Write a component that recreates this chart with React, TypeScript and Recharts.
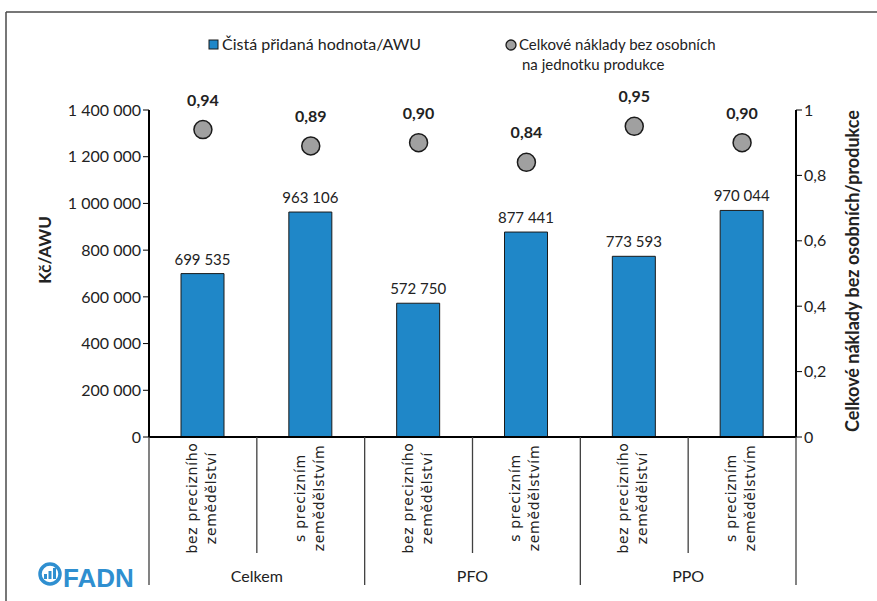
import React from 'react';
import { ComposedChart, Bar, Scatter, XAxis, YAxis, LabelList } from 'recharts';

// farm groups and precision-farming split
const groups = ['Celkem', 'Celkem', 'PFO', 'PFO', 'PPO', 'PPO'];
const catLines = [
    ['bez precizního', 'zemědělství'],
    ['s precizním', 'zemědělstvím'],
    ['bez precizního', 'zemědělství'],
    ['s precizním', 'zemědělstvím'],
    ['bez precizního', 'zemědělství'],
    ['s precizním', 'zemědělstvím'],
];
// Kč per AWU
const valueAdded = [699535, 963106, 572750, 877441, 773593, 970044];
// total costs without personal costs per unit of output
const costRatio = [0.94, 0.89, 0.9, 0.84, 0.95, 0.9];

const leftTicks = [0, 200000, 400000, 600000, 800000, 1000000, 1200000, 1400000];
const rightTicks = [0, 0.2, 0.4, 0.6, 0.8, 1];

const data = groups.map((g, i) => ({
    name: g + ': ' + catLines[i].join(' '),
    awu: valueAdded[i],
    cost: costRatio[i],
}));

const W = 877;
const H = 601;
const PLOT_LEFT = 149;
const PLOT_RIGHT = 796;
const PLOT_TOP = 110;
const PLOT_BOTTOM = 437;
const BAND = (PLOT_RIGHT - PLOT_LEFT) / data.length;

const BLUE = '#1F87C8';
const LINE = '#404040';
const TXT = '#222';
const GILL = 'Lato, "Open Sans", sans-serif';

const spaced = (v: number) => String(Math.round(v)).replace(/\B(?=(\d{3})+(?!\d))/g, ' ');
const comma2 = (v: number) => v.toFixed(2).replace('.', ',');
const rightFmt = (v: number) => (v === 0 || v === 1 ? String(v) : v.toFixed(1).replace('.', ','));

const CategoryTick = (props: any) => {
    const { x, payload } = props;
    const i = payload.index;
    const cy = 498;
    const right = x + BAND / 2;
    const groupEnd = i % 2 === 1;
    return (
        <g>
            {i === 0 && (
                <line x1={x - BAND / 2} x2={x - BAND / 2} y1={PLOT_BOTTOM} y2={585} stroke={LINE} strokeWidth={1.3} />
            )}
            <line x1={right} x2={right} y1={PLOT_BOTTOM} y2={groupEnd ? 585 : 553} stroke={LINE} strokeWidth={1.3} />
            <text
                transform={`rotate(-90, ${x}, ${cy})`}
                x={x}
                y={cy}
                textAnchor="middle"
                fontFamily='"DejaVu Sans", sans-serif'
                fontSize={14}
                letterSpacing={0.7}
                fill={TXT}
            >
                <tspan x={x} y={cy - 6}>{catLines[i][0]}</tspan>
                <tspan x={x} y={cy + 13}>{catLines[i][1]}</tspan>
            </text>
            {groupEnd && (
                <text x={x - BAND / 2} y={582} textAnchor="middle" fontFamily={GILL} fontSize={16} fill={TXT}>
                    {groups[i]}
                </text>
            )}
        </g>
    );
};

const AwuLabel = (props: any) => {
    const { x, y, width, value } = props;
    return (
        <text x={x + width / 2} y={y - 9} textAnchor="middle" fontFamily={GILL} fontSize={15} fill={TXT}>
            {spaced(Number(value))}
        </text>
    );
};

const CostDot = (props: any) => {
    const { cx, cy, payload } = props;
    return (
        <g>
            <circle cx={cx} cy={cy} r={9} fill="#A0A0A0" stroke="#1a1a1a" strokeWidth={1.5} />
            <text x={cx} y={cy - 24} textAnchor="middle" fontFamily={GILL} fontWeight={700} fontSize={16} fill={TXT}>
                {comma2(payload.cost)}
            </text>
        </g>
    );
};

export default function App() {
    return (
        <div style={{ position: 'absolute', left: 0, top: 0, width: W, height: H, background: '#fff' }}>
            <ComposedChart
                width={W}
                height={H}
                data={data}
                margin={{ top: PLOT_TOP, right: W - PLOT_RIGHT - 50, left: PLOT_LEFT - 80, bottom: H - PLOT_BOTTOM - 150 }}
            >
                <XAxis
                    dataKey="name"
                    height={150}
                    interval={0}
                    tickLine={false}
                    axisLine={{ stroke: '#000', strokeWidth: 2 }}
                    tick={<CategoryTick />}
                />
                <YAxis
                    yAxisId="left"
                    width={80}
                    domain={[0, 1400000]}
                    ticks={leftTicks}
                    tickFormatter={spaced}
                    axisLine={{ stroke: '#000', strokeWidth: 2 }}
                    tickLine={{ stroke: '#000' }}
                    tickSize={6}
                    tick={{ fontFamily: GILL, fontSize: 16, fill: TXT }}
                />
                <YAxis
                    yAxisId="right"
                    orientation="right"
                    width={50}
                    domain={[0, 1]}
                    ticks={rightTicks}
                    tickFormatter={rightFmt}
                    axisLine={{ stroke: '#000', strokeWidth: 2 }}
                    tickLine={{ stroke: '#000' }}
                    tickSize={6}
                    tick={{ fontFamily: GILL, fontSize: 16, fill: TXT }}
                />
                <Bar yAxisId="left" dataKey="awu" barSize={43} fill={BLUE} stroke="#1a1a1a" strokeWidth={1} isAnimationActive={false}>
                    <LabelList dataKey="awu" content={<AwuLabel />} />
                </Bar>
                <Scatter yAxisId="right" dataKey="cost" shape={<CostDot />} isAnimationActive={false} />
            </ComposedChart>

            {/* frame, legend, axis titles and logo */}
            <svg width={W} height={H} style={{ position: 'absolute', left: 0, top: 0, pointerEvents: 'none' }}>
                <line x1={6} x2={W} y1={12} y2={12} stroke="#4a4a4a" strokeWidth={1.5} />
                <line x1={6} x2={6} y1={12} y2={H} stroke="#4a4a4a" strokeWidth={1.5} />

                <rect x={209} y={40} width={9} height={9} fill={BLUE} stroke="#1a1a1a" strokeWidth={1} />
                <text x={222} y={50} fontFamily={GILL} fontSize={16} fill={TXT}>Čistá přidaná hodnota/AWU</text>
                <circle cx={511} cy={45} r={5} fill="#A0A0A0" stroke="#1a1a1a" strokeWidth={1.3} />
                <text x={519} y={50} fontFamily={GILL} fontSize={15} fill={TXT}>Celkové náklady bez osobních</text>
                <text x={522} y={70} fontFamily={GILL} fontSize={15} fill={TXT}>na jednotku produkce</text>

                <text
                    transform="rotate(-90, 51, 250)"
                    x={51}
                    y={250}
                    textAnchor="middle"
                    fontFamily={GILL}
                    fontWeight={700}
                    fontSize={17}
                    fill={TXT}
                >
                    Kč/AWU
                </text>
                <text
                    transform="rotate(-90, 859, 271)"
                    x={859}
                    y={271}
                    textAnchor="middle"
                    fontFamily={GILL}
                    fontWeight={700}
                    fontSize={18}
                    fill={TXT}
                >
                    Celkové náklady bez osobních/produkce
                </text>

                <g>
                    <circle cx={50} cy={574} r={10} fill="none" stroke="#2F8FD0" strokeWidth={3.5} />
                    <rect x={44} y={574} width={3} height={5} fill="#2F8FD0" />
                    <rect x={48.5} y={571} width={3} height={8} fill="#2F8FD0" />
                    <rect x={53} y={568} width={3} height={11} fill="#2F8FD0" />
                    <text x={63} y={587} fontFamily='"Liberation Sans", Arial, sans-serif' fontWeight={700} fontSize={26} fill="#2F8FD0">
                        FADN
                    </text>
                </g>
            </svg>
        </div>
    );
}
